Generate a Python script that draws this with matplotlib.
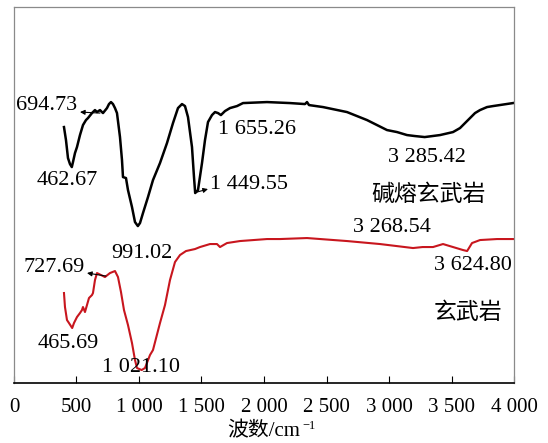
import matplotlib
matplotlib.use("Agg")
import matplotlib.pyplot as plt

plt.rcParams["font.family"] = ["Liberation Serif", "Noto Sans CJK SC"]

# wavenumber (cm-1) and transmittance (a.u.)
fused_wn = [400, 416, 432, 448, 462.67, 472, 488, 504, 528, 552, 576, 592, 624, 648, 664,
            688, 712, 744, 760, 776, 792, 808, 824, 848, 864, 872, 896, 912, 944, 968,
            991.02, 1008, 1032, 1072, 1112, 1168, 1224, 1272, 1312, 1344, 1368, 1392,
            1424, 1440, 1449.55, 1472, 1504, 1528, 1552, 1584, 1608, 1632, 1655.26,
            1688, 1728, 1784, 1832, 2024, 2208, 2328, 2344, 2360, 2472, 2664, 2824,
            2984, 3064, 3144, 3208, 3285.42, 3408, 3512, 3568, 3608, 3648, 3688, 3728,
            3784, 3832, 3992]
fused_t = [256, 243, 225, 219, 216, 221, 230, 236, 248, 258, 263, 265, 270, 273, 271,
           273, 270, 275, 279, 281, 279, 275, 270, 246, 223, 206, 205, 193, 176, 161,
           157, 160, 170, 186, 203, 220, 240, 260, 275, 279, 277, 266,
           236, 206, 190, 193, 220, 243, 261, 268, 271, 270, 268,
           272, 275, 277, 280, 281, 280, 279, 281, 278, 276, 271, 263,
           253, 251, 248, 247, 246, 248, 251, 255, 260, 265, 270, 273,
           276, 277, 280]

basalt_wn = [400, 408, 424, 440, 465.69, 480, 504, 528, 544, 552, 568, 584, 600, 624,
             632, 648, 664, 712, 727.69, 768, 808, 832, 856, 880, 912, 944, 968, 984,
             1021.10, 1048, 1088, 1112, 1168, 1208, 1248, 1288, 1328, 1376, 1448, 1488,
             1568, 1624, 1648, 1704, 1808, 2024, 2128, 2344, 2664, 2928, 3192, 3268.54,
             3352, 3432, 3512, 3592, 3624.80, 3664, 3728, 3864, 3992]
basalt_t = [90, 76, 63, 60, 55, 60, 66, 70, 73, 76, 71, 78, 85, 88,
            90, 103, 110, 107, 106, 110, 112, 106, 91, 73, 58, 40, 23, 15,
            13, 15, 28, 33, 60, 78, 103, 121, 128, 132, 134, 136,
            139, 139, 136, 140, 142, 144, 144, 145, 142, 139, 135, 136,
            136, 139, 136, 133, 132, 140, 143, 144, 144]

xticks = [0, 500, 1000, 1500, 2000, 2500, 3000, 3500, 4000]
xtick_labels = ["0", "500", "1 000", "1 500", "2 000", "2 500", "3 000", "3 500", "4 000"]

fig = plt.figure(figsize=(5.48, 4.43), dpi=100)
ax = fig.add_axes([0.0255, 0.1354, 0.9125, 0.8486])
ax.plot(fused_wn, fused_t, color="black", lw=1.8, solid_joinstyle="round")
ax.plot(basalt_wn, basalt_t, color="#c8161e", lw=1.5, solid_joinstyle="round")
ax.set_xlim(0, 4000)
ax.set_ylim(0, 376)
ax.set_yticks([])
ax.set_xticks(xticks)
ax.set_xticklabels(xtick_labels, fontsize=15)
ax.tick_params(axis="x", direction="in", length=5, pad=11, width=0.8)
for s in ("left", "top", "right"):
    ax.spines[s].set_color("#8a8a8a")
    ax.spines[s].set_linewidth(0.9)
ax.spines["bottom"].set_linewidth(1.2)

# axis title, superscript drawn as its own text
fig.text(0.482, 0.025, "波数/cm", fontsize=15, ha="center", va="center")
fig.text(0.552, 0.038, "−1", fontsize=9, ha="left", va="center")

fs = 16
arrow = dict(arrowstyle="-|>", lw=0.8, color="black", mutation_scale=7, shrinkA=0, shrinkB=0)
ax.annotate("", xy=(528, 271), xytext=(688, 270), arrowprops=arrow)
ax.text(16, 278, "694.73", fontsize=fs, ha="left", va="center")
ax.text(424, 203, "462.67", fontsize=fs, ha="center", va="center")
ax.text(1024, 130, "991.02", fontsize=fs, ha="center", va="center")
ax.annotate("", xy=(1552, 194), xytext=(1464, 191), arrowprops=arrow)
ax.text(1568, 199, "1 449.55", fontsize=fs, ha="left", va="center")
ax.text(1632, 254, "1 655.26", fontsize=fs, ha="left", va="center")
ax.text(3304, 226, "3 285.42", fontsize=fs, ha="center", va="center")
ax.text(3312, 188, "碱熔玄武岩", fontsize=16.5, ha="center", va="center")
ax.text(3024, 156, "3 268.54", fontsize=fs, ha="center", va="center")
ax.text(3672, 118, "3 624.80", fontsize=fs, ha="center", va="center")
ax.text(3632, 70, "玄武岩", fontsize=16.5, ha="center", va="center")
ax.annotate("", xy=(584, 110), xytext=(736, 107), arrowprops=arrow)
ax.text(320, 116, "727.69", fontsize=fs, ha="center", va="center")
ax.text(432, 40, "465.69", fontsize=fs, ha="center", va="center")
ax.text(1016, 16, "1 021.10", fontsize=fs, ha="center", va="center")

fig.savefig("out.png", dpi=100)
